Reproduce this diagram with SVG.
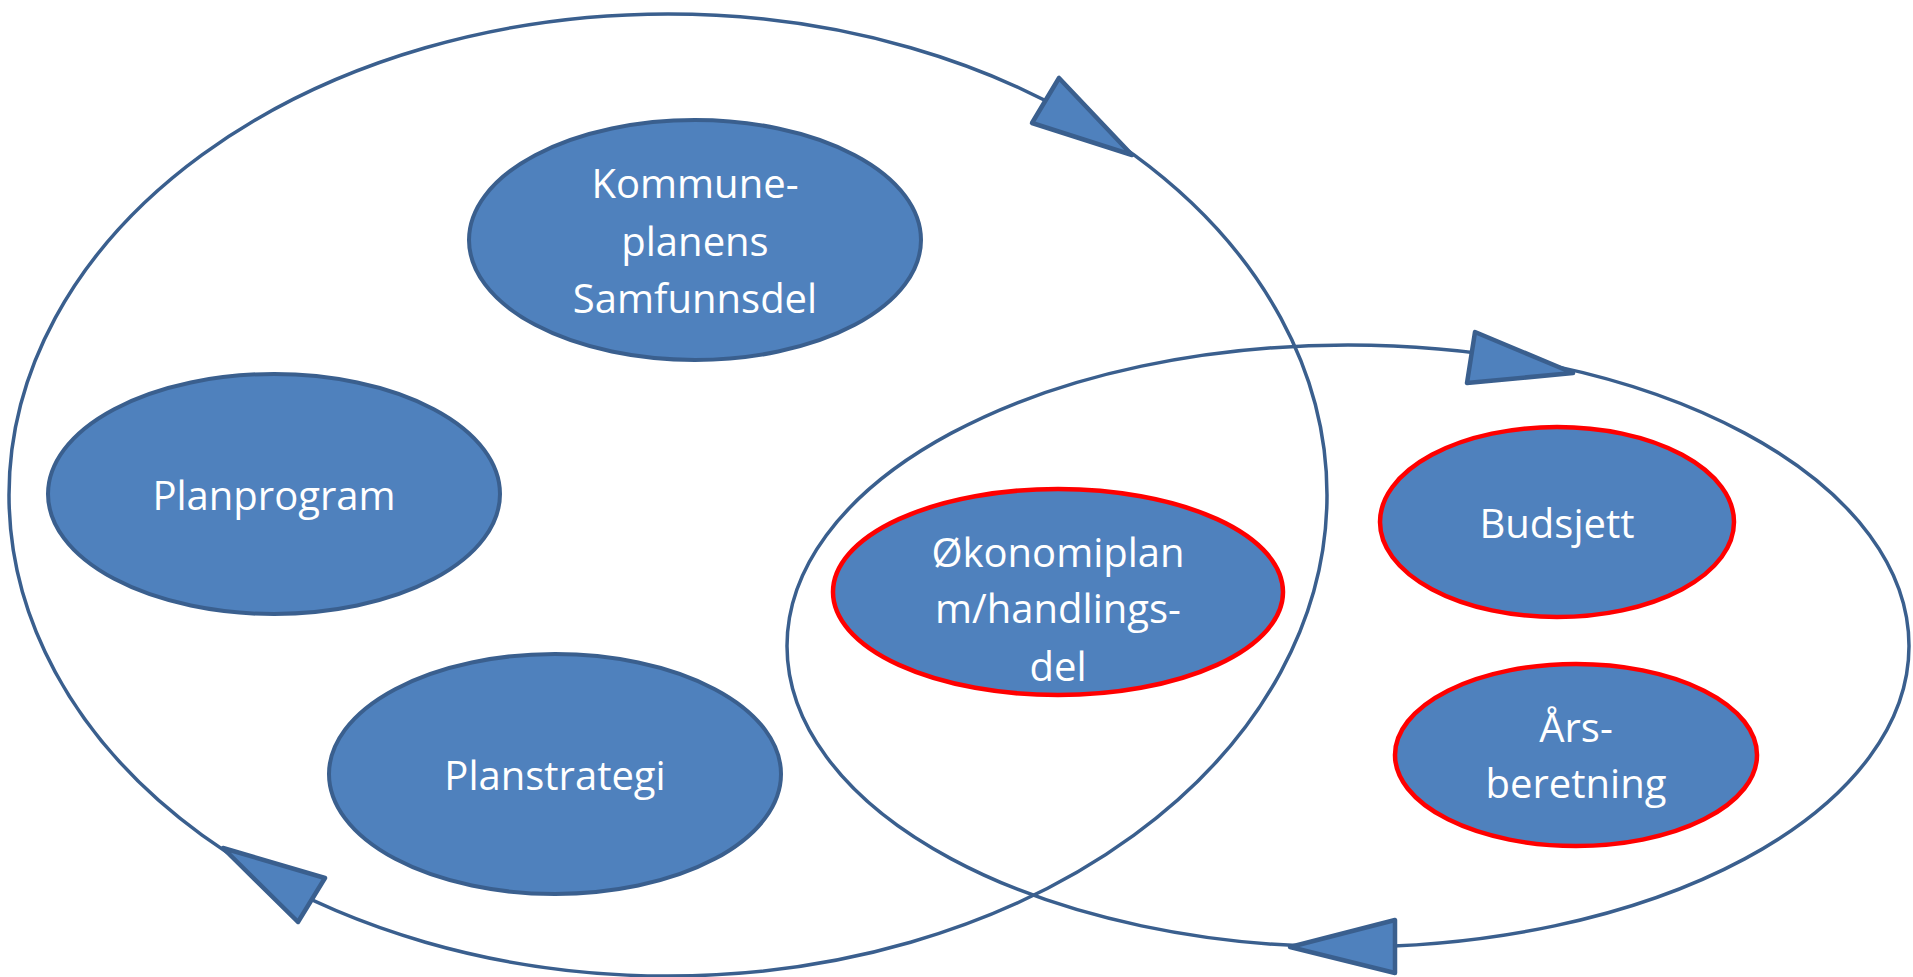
<svg xmlns="http://www.w3.org/2000/svg" width="1913" height="977" viewBox="0 0 1913 977">
<style>
.ring{fill:none;stroke:#3A5F8E;stroke-width:3.5}
.head{fill:#4F81BD;stroke:#3A5F8E;stroke-width:4.5;stroke-linejoin:round}
.node{fill:#4F81BD;stroke:#3A5F8E;stroke-width:4}
.red{fill:#4F81BD;stroke:#FF0000;stroke-width:4.5}
.lbl{font-family:"Open Sans","Noto Sans",sans-serif;font-size:40px;fill:#FFFFFF;text-anchor:middle}
</style>
<rect width="1913" height="977" fill="#FFFFFF"/>
<g id="connectors">
<ellipse class="ring" cx="668" cy="495" rx="659" ry="481"/>
<ellipse class="ring" cx="1348" cy="646" rx="561" ry="301"/>
<polygon class="head" points="1059,78 1032,123 1132,155"/>
<polygon class="head" points="1475,332 1467,383 1573,373"/>
<polygon class="head" points="1290,947 1395,920 1395,973"/>
<polygon class="head" points="223,848 325,878 298,922"/>
</g>
<g id="kommuneplan">
<ellipse class="node" cx="695" cy="240" rx="226" ry="120"/>
<text class="lbl" x="695" y="198">Kommune-</text>
<text class="lbl" x="695" y="256">planens</text>
<text class="lbl" x="695" y="313">Samfunnsdel</text>
</g>
<g id="planprogram">
<ellipse class="node" cx="274" cy="494" rx="226" ry="120"/>
<text class="lbl" x="274" y="510">Planprogram</text>
</g>
<g id="planstrategi">
<ellipse class="node" cx="555" cy="774" rx="226" ry="120"/>
<text class="lbl" x="555" y="790">Planstrategi</text>
</g>
<g id="okonomiplan">
<ellipse class="red" cx="1058" cy="592" rx="225" ry="103"/>
<text class="lbl" x="1058" y="567">Økonomiplan</text>
<text class="lbl" x="1058" y="623">m/handlings-</text>
<text class="lbl" x="1058" y="681">del</text>
</g>
<g id="budsjett">
<ellipse class="red" cx="1557" cy="522" rx="177" ry="95"/>
<text class="lbl" x="1557" y="538">Budsjett</text>
</g>
<g id="arsberetning">
<ellipse class="red" cx="1576" cy="755" rx="181" ry="91"/>
<text class="lbl" x="1576" y="742">Års-</text>
<text class="lbl" x="1576" y="798">beretning</text>
</g>
</svg>
